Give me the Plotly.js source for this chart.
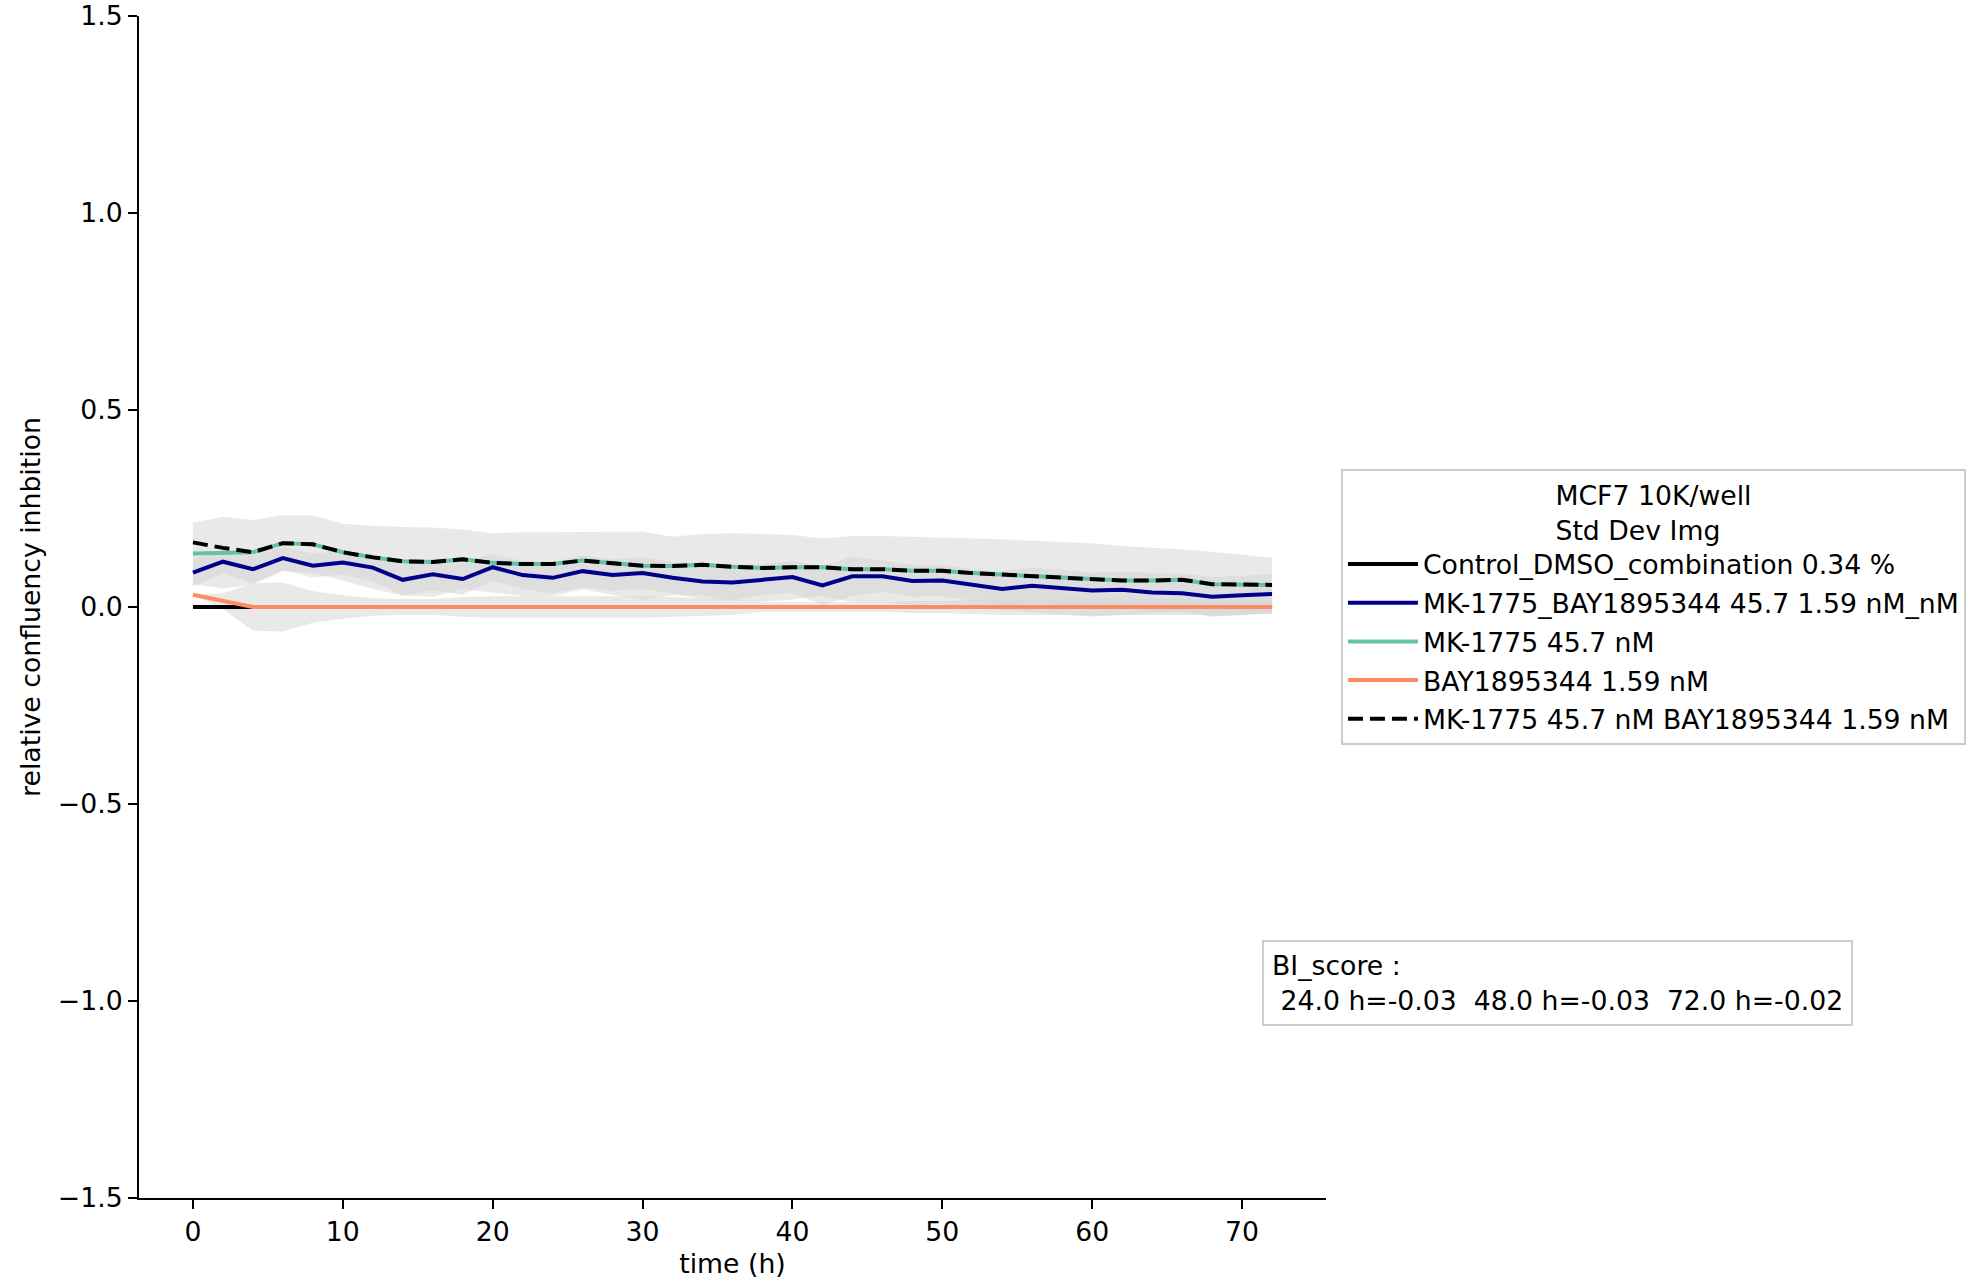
<!DOCTYPE html>
<html>
<head>
<meta charset="utf-8">
<script src="https://cdn.plot.ly/plotly-3.0.1.min.js"></script>
<style>html,body{margin:0;padding:0;background:#fff;}#chart{width:1978px;height:1280px;}</style>
</head>
<body>
<div id="chart"></div>
<script>
// time points (h)
const timeH = [0,2,4,6,8,10,12,14,16,18,20,22,24,26,28,30,32,34,36,38,40,42,44,46,48,50,52,54,56,58,60,62,64,66,68,70,72];

const controlMean = [0,0,0,0,0,0,0,0,0,0,0,0,0,0,0,0,0,0,0,0,0,0,0,0,0,0,0,0,0,0,0,0,0,0,0,0,0];

const comboMean = [0.087,0.115,0.096,0.124,0.105,0.113,0.100,0.069,0.083,0.071,0.101,0.081,0.074,0.091,0.081,0.086,0.074,0.065,0.062,0.070,0.076,0.055,0.078,0.078,0.066,0.067,0.056,0.046,0.054,0.049,0.042,0.044,0.037,0.035,0.026,0.030,0.033];
const comboStd  = [0.035,0.030,0.035,0.030,0.030,0.030,0.035,0.040,0.040,0.040,0.035,0.035,0.040,0.040,0.040,0.040,0.040,0.045,0.045,0.040,0.040,0.050,0.050,0.040,0.040,0.040,0.040,0.045,0.045,0.045,0.045,0.045,0.050,0.050,0.050,0.050,0.050];

const mkMean = [0.136,0.138,0.139,0.162,0.159,0.139,0.126,0.116,0.114,0.121,0.112,0.109,0.109,0.118,0.111,0.105,0.104,0.107,0.102,0.099,0.101,0.101,0.096,0.096,0.092,0.092,0.086,0.082,0.077,0.073,0.069,0.067,0.067,0.069,0.058,0.056,0.056];
const mkStd  = [0.078,0.091,0.082,0.071,0.073,0.072,0.080,0.087,0.088,0.076,0.075,0.081,0.081,0.073,0.080,0.086,0.074,0.078,0.085,0.086,0.082,0.073,0.084,0.084,0.086,0.085,0.088,0.090,0.091,0.092,0.093,0.088,0.084,0.077,0.082,0.076,0.069];

const bayMean = [0.031,0.015,0,0,0,0,0,0,0,0,0,0,0,0,0,0,0,0,0,0,0,0,0,0,0,0,0,0,0,0,0,0,0,0,0,0,0];
const bayStd  = [0.000,0.020,0.060,0.062,0.040,0.030,0.022,0.020,0.020,0.025,0.027,0.027,0.027,0.027,0.027,0.027,0.025,0.022,0.020,0.012,0.012,0.012,0.012,0.012,0.015,0.015,0.018,0.020,0.020,0.020,0.022,0.020,0.020,0.020,0.018,0.018,0.018];

const expectedMean = [0.164,0.150,0.139,0.162,0.159,0.139,0.126,0.116,0.114,0.121,0.112,0.109,0.109,0.118,0.111,0.105,0.104,0.107,0.102,0.099,0.101,0.101,0.096,0.096,0.092,0.092,0.086,0.082,0.077,0.073,0.069,0.067,0.067,0.069,0.058,0.056,0.056];

const seriesNames = [
  "Control_DMSO_combination 0.34 %",
  "MK-1775_BAY1895344 45.7 1.59 nM_nM",
  "MK-1775 45.7 nM",
  "BAY1895344 1.59 nM",
  "MK-1775 45.7 nM BAY1895344 1.59 nM"
];
const legendTitle = "MCF7 10K/well<br>Std Dev Img";
const biScoreText = "BI_score :<br>\u00a024.0 h=-0.03\u00a0\u00a048.0 h=-0.03\u00a0\u00a072.0 h=-0.02";
const yTickVals = [-1.5,-1.0,-0.5,0.0,0.5,1.0,1.5];
const xTickVals = [0,10,20,30,40,50,60,70];

const FONT = "DejaVu Sans, sans-serif";
const FS = 26.7;
const bandColor = "rgba(211,211,211,0.5)";

function band(mean, std) {
  const up = mean.map((m,i)=>m+std[i]);
  const lo = mean.map((m,i)=>m-std[i]);
  return {
    x: timeH.concat(timeH.slice().reverse()),
    y: up.concat(lo.slice().reverse()),
    type: "scatter", mode: "lines", fill: "toself",
    fillcolor: bandColor, line: {width: 0, color: "rgba(0,0,0,0)"},
    showlegend: false, hoverinfo: "skip"
  };
}

const traces = [
  band(comboMean, comboStd),
  band(mkMean, mkStd),
  band(bayMean, bayStd),
  {x: timeH, y: controlMean, type: "scatter", mode: "lines", name: seriesNames[0], legendgroup: "a",
   line: {color: "#000000", width: 4}},
  {x: timeH, y: comboMean, type: "scatter", mode: "lines", name: seriesNames[1], legendgroup: "b",
   line: {color: "#00008b", width: 4}},
  {x: timeH, y: mkMean, type: "scatter", mode: "lines", name: seriesNames[2], legendgroup: "c",
   line: {color: "#66c2a5", width: 4}},
  {x: timeH, y: bayMean, type: "scatter", mode: "lines", name: seriesNames[3], legendgroup: "d",
   line: {color: "#fc8d62", width: 4}},
  {x: timeH, y: expectedMean, type: "scatter", mode: "lines", name: seriesNames[4], legendgroup: "e",
   line: {color: "#000000", width: 4, dash: "15px,7px"}}
];

const layout = {
  width: 1978, height: 1280,
  margin: {l: 139, r: 650, t: 16, b: 82},
  paper_bgcolor: "#ffffff", plot_bgcolor: "#ffffff",
  font: {family: FONT, size: FS, color: "#000000"},
  showlegend: true,
  xaxis: {
    range: [-3.6, 75.6], tickvals: xTickVals, ticktext: xTickVals.map(String),
    showgrid: false, zeroline: false, showline: true, linecolor: "#000", linewidth: 2,
    ticks: "outside", ticklen: 9, tickwidth: 2, tickcolor: "#000",
    tickfont: {family: FONT, size: FS},
    title: {text: "time (h)", font: {family: FONT, size: FS}, standoff: 8}
  },
  yaxis: {
    range: [-1.5, 1.5], tickvals: yTickVals, tickformat: ".1f",
    showgrid: false, zeroline: false, showline: true, linecolor: "#000", linewidth: 2,
    ticks: "outside", ticklen: 9, tickwidth: 2, tickcolor: "#000",
    tickfont: {family: FONT, size: FS},
    title: {text: "relative confluency inhbition", font: {family: FONT, size: FS}, standoff: 10}
  },
  legend: {
    x: 1.0126, y: 0.617, xanchor: "left", yanchor: "top",
    bgcolor: "#ffffff", bordercolor: "#cccccc", borderwidth: 2,
    font: {family: FONT, size: FS},
    title: {text: legendTitle, side: "top center", font: {family: FONT, size: FS}},
    tracegroupgap: 1, itemwidth: 70
  },
  annotations: [{
    xref: "paper", yref: "paper", x: 0.946, y: 0.218, xanchor: "left", yanchor: "top",
    text: biScoreText, showarrow: false, align: "left",
    font: {family: FONT, size: FS}, bgcolor: "#ffffff",
    bordercolor: "#cccccc", borderwidth: 2, borderpad: 8
  }]
};

Plotly.newPlot("chart", traces, layout, {staticPlot: true, displayModeBar: false});
</script>
</body>
</html>
